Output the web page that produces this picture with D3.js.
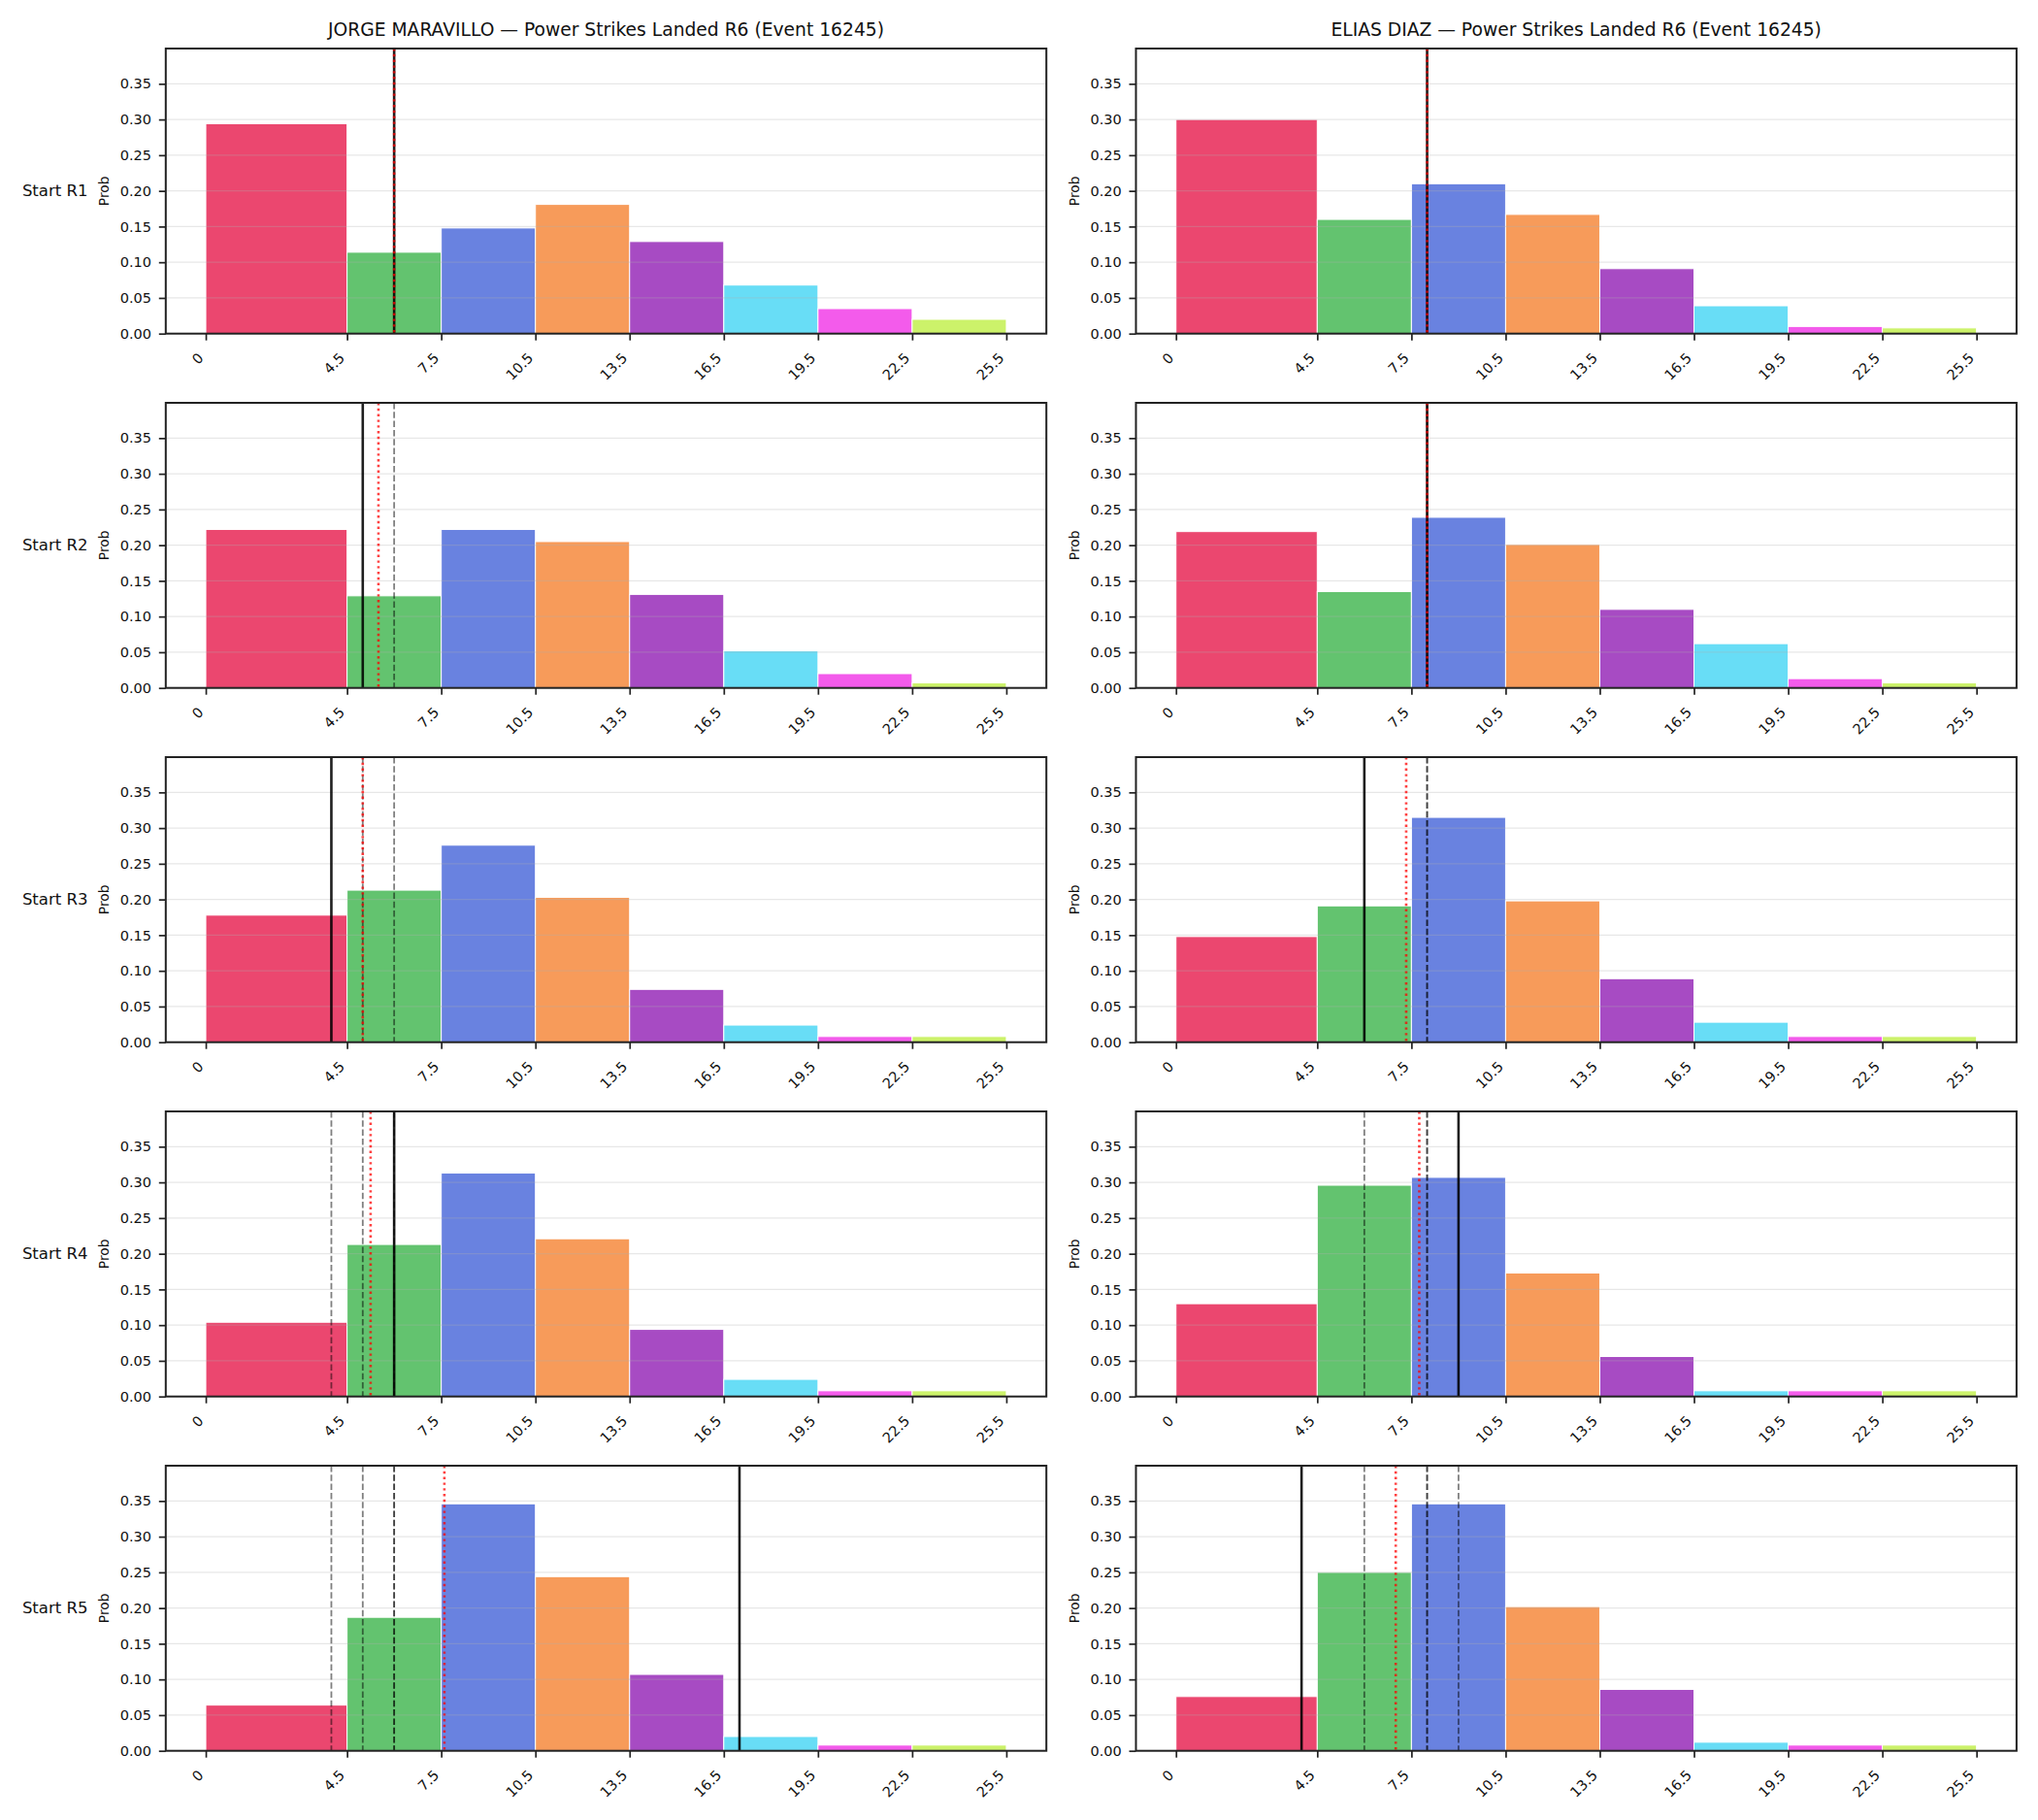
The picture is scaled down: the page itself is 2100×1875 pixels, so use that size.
<!DOCTYPE html>
<html>
<head>
<meta charset="utf-8">
<script src="https://cdn.jsdelivr.net/npm/d3@7"></script>
<style>
  body { margin: 0; background: #fff; }
  text { font-family: 'DejaVu Sans', sans-serif; fill: #111; }
</style>
</head>
<body>
<svg id="chart" width="2100" height="1875"></svg>
<script>
const fighters = ['JORGE MARAVILLO', 'ELIAS DIAZ']
const eventId = 16245
const rounds = ['Start R1', 'Start R2', 'Start R3', 'Start R4', 'Start R5']
const binEdges = [0, 4.5, 7.5, 10.5, 13.5, 16.5, 19.5, 22.5, 25.5]
const tickLabels = ['0', '4.5', '7.5', '10.5', '13.5', '16.5', '19.5', '22.5', '25.5']
const yTicks = [0, 0.05, 0.1, 0.15, 0.2, 0.25, 0.3, 0.35]
const binColors = ['#e6194b', '#3cb44b', '#4363d8', '#f58231', '#911eb4', '#42d4f4', '#f032e6', '#bfef45']

// probability per bin, one row per "Start Rk" panel
const jorgeProbs = [
  [0.294, 0.114, 0.148, 0.181, 0.129, 0.068, 0.035, 0.020],
  [0.222, 0.129, 0.222, 0.205, 0.131, 0.052, 0.020, 0.007],
  [0.178, 0.213, 0.276, 0.203, 0.074, 0.024, 0.008, 0.008],
  [0.104, 0.213, 0.313, 0.221, 0.094, 0.024, 0.008, 0.008],
  [0.064, 0.187, 0.346, 0.244, 0.107, 0.020, 0.008, 0.008]
]
const eliasProbs = [
  [0.300, 0.160, 0.210, 0.167, 0.091, 0.039, 0.010, 0.008],
  [0.219, 0.135, 0.239, 0.201, 0.110, 0.062, 0.013, 0.007],
  [0.148, 0.191, 0.315, 0.198, 0.089, 0.028, 0.008, 0.008],
  [0.130, 0.296, 0.307, 0.173, 0.056, 0.008, 0.008, 0.008],
  [0.076, 0.250, 0.346, 0.202, 0.086, 0.012, 0.008, 0.008]
]
// landed per round
const jorgeActual = [6, 5, 4, 6, 17]
const eliasActual = [8, 8, 6, 9, 4]

const colX = [170.8, 1170.5]
const axW = 907.4
const axH = 293.7
const rowTop = i => 50 + i * 365

const svg = d3.select('#chart')
const x = d3.scaleLinear().domain([-1.275, 26.775]).range([0, axW])
const y = d3.scaleLinear().domain([0, 0.3994]).range([axH, 0])

const drawPanel = (g, probs, actual, r) => {
  const bins = probs.map((p, i) => ({ x0: binEdges[i], x1: binEdges[i + 1], p, color: binColors[i] }))
  g.append('g')
    .selectAll('rect').data(bins).enter().append('rect')
    .attr('x', d => x(d.x0))
    .attr('y', d => y(d.p))
    .attr('width', d => x(d.x1) - x(d.x0))
    .attr('height', d => y(0) - y(d.p))
    .attr('fill', d => d.color)
    .attr('fill-opacity', 0.8)
    .attr('stroke', '#fff')
    .attr('stroke-width', 1)

  // grid sits above the bars like matplotlib's default
  g.append('g')
    .selectAll('line').data(yTicks).enter().append('line')
    .attr('x1', 0).attr('x2', axW)
    .attr('y1', d => y(d)).attr('y2', d => y(d))
    .attr('stroke', '#b0b0b0')
    .attr('stroke-opacity', 0.3)
    .attr('stroke-width', 1.2)

  const past = actual.slice(0, r)
  const now = actual[r]
  const runMean = d3.mean(actual.slice(0, r + 1))

  g.append('g')
    .selectAll('line').data(past).enter().append('line')
    .attr('x1', d => x(d)).attr('x2', d => x(d))
    .attr('y1', 0).attr('y2', axH)
    .attr('stroke', '#000')
    .attr('stroke-opacity', 0.5)
    .attr('stroke-width', 1.8)
    .attr('stroke-dasharray', '6.5,2.8')

  g.append('line')
    .attr('x1', x(now)).attr('x2', x(now))
    .attr('y1', 0).attr('y2', axH)
    .attr('stroke', '#000')
    .attr('stroke-opacity', 0.88)
    .attr('stroke-width', 2.6)

  g.append('line')
    .attr('x1', x(runMean)).attr('x2', x(runMean))
    .attr('y1', 0).attr('y2', axH)
    .attr('stroke', 'red')
    .attr('stroke-opacity', 0.75)
    .attr('stroke-width', 2.6)
    .attr('stroke-dasharray', '2.4,3.4')

  const xAxis = g.append('g')
    .attr('transform', `translate(0,${axH})`)
    .call(d3.axisBottom(x).tickValues(binEdges).tickFormat((d, i) => tickLabels[i]).tickSize(7).tickSizeOuter(0))
    .attr('font-size', 14.5)
    .attr('font-family', 'DejaVu Sans')
    .attr('color', '#222')
  xAxis.select('.domain').remove()
  xAxis.selectAll('line').attr('stroke-width', 1.7)
  xAxis.selectAll('text')
    .attr('x', 0).attr('y', 0).attr('dy', 0)
    .attr('transform', 'translate(-2,26) rotate(-45)')
    .style('text-anchor', 'end')
    .attr('fill', '#111')

  const yAxis = g.append('g')
    .call(d3.axisLeft(y).tickValues(yTicks).tickFormat(d3.format('.2f')).tickSize(7).tickPadding(7.8).tickSizeOuter(0))
    .attr('font-size', 14.5)
    .attr('font-family', 'DejaVu Sans')
    .attr('color', '#222')
  yAxis.select('.domain').remove()
  yAxis.selectAll('line').attr('stroke-width', 1.7)
  yAxis.selectAll('text').attr('fill', '#111')

  g.append('rect')
    .attr('width', axW).attr('height', axH)
    .attr('fill', 'none')
    .attr('stroke', '#222')
    .attr('stroke-width', 2)

  g.append('text')
    .attr('transform', `translate(-63.8,${axH / 2}) rotate(-90)`)
    .attr('text-anchor', 'middle')
    .attr('dominant-baseline', 'central')
    .attr('font-size', 13.8)
    .text('Prob')
}

const allProbs = [jorgeProbs, eliasProbs]
const allActual = [jorgeActual, eliasActual]

fighters.forEach((name, c) => {
  svg.append('text')
    .attr('x', colX[c] + axW / 2)
    .attr('y', 37)
    .attr('text-anchor', 'middle')
    .attr('font-size', 18.7)
    .text(`${name} — Power Strikes Landed R6 (Event ${eventId})`)

  rounds.forEach((label, r) => {
    const g = svg.append('g').attr('transform', `translate(${colX[c]},${rowTop(r)})`)
    drawPanel(g, allProbs[c][r], allActual[c], r)
    if (c === 0) {
      svg.append('text')
        .attr('x', 90.4)
        .attr('y', rowTop(r) + axH / 2)
        .attr('text-anchor', 'end')
        .attr('dominant-baseline', 'central')
        .attr('font-size', 16.5)
        .text(label)
    }
  })
})
</script>
</body>
</html>
